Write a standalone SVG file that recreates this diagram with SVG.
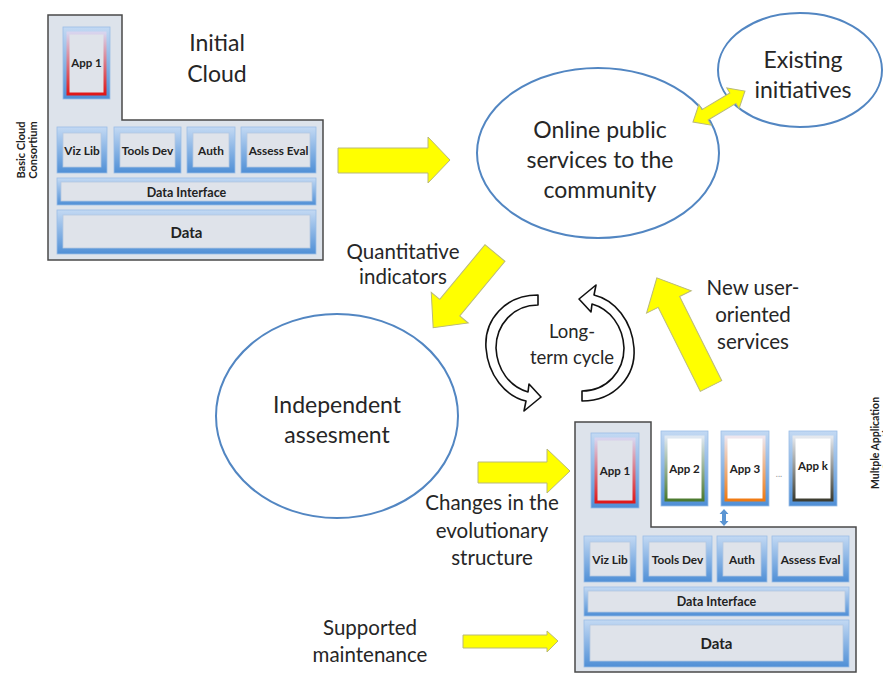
<svg xmlns="http://www.w3.org/2000/svg" width="883" height="680" viewBox="0 0 883 680">
<defs>
<linearGradient id="blueG" x1="0" y1="0" x2="0" y2="1">
<stop offset="0" stop-color="#c3d9f3"/><stop offset="1" stop-color="#4f8fd6"/>
</linearGradient>
<linearGradient id="redG" x1="0" y1="0" x2="0" y2="1">
<stop offset="0" stop-color="#d8d4ee"/><stop offset="1" stop-color="#e01818"/>
</linearGradient>
<linearGradient id="greenG" x1="0" y1="0" x2="0" y2="1">
<stop offset="0" stop-color="#dfe8f2"/><stop offset="1" stop-color="#4c7a2e"/>
</linearGradient>
<linearGradient id="orangeG" x1="0" y1="0" x2="0" y2="1">
<stop offset="0" stop-color="#eee6ee"/><stop offset="1" stop-color="#f07a12"/>
</linearGradient>
<linearGradient id="darkG" x1="0" y1="0" x2="0" y2="1">
<stop offset="0" stop-color="#e4e8ee"/><stop offset="1" stop-color="#3c3c30"/>
</linearGradient>
</defs>
<style>
.blk{fill:#dde3eb;stroke:#4a4a4a;stroke-width:1.5}
.fr{fill:url(#blueG);stroke:#9bbde6;stroke-width:0.8}
.in{fill:#dfe3ea;stroke:#b5c8e2;stroke-width:0.8}
.lb{font-family:Lato,"Liberation Sans",sans-serif;font-weight:bold;fill:#222;text-anchor:middle}
.a{font-size:11.5px}
.s{font-size:11.8px}
.di{font-size:12.5px}
.d{font-size:15px}
.t{font-family:Lato,"Open Sans",sans-serif;fill:#262626;text-anchor:middle}
.big{font-size:23px}
.mid{font-size:20.5px}
.ell{fill:#fff;stroke:#5286c2;stroke-width:2}
.ya{fill:#ffff00;stroke:#b9b97a;stroke-width:1}
.cyc{fill:#fff;stroke:#111;stroke-width:1.6;stroke-linejoin:round}
</style>
<rect width="883" height="680" fill="#fff"/>

<g id="initial-cloud">
<path class="blk" d="M48 15 H122 V120 H323 V260 H48 Z"/>
<rect class="fr" x="63" y="27" width="47" height="72"/>
<rect x="68" y="33" width="37" height="61" fill="#dfe3ea" stroke="url(#redG)" stroke-width="3"/>
<text class="lb a" x="86.5" y="67">App 1</text>
<rect class="fr" x="57" y="127" width="50" height="46"/><rect class="in" x="63" y="133" width="38" height="34"/>
<text class="lb s" x="82" y="154.5">Viz Lib</text>
<rect class="fr" x="114" y="127" width="67" height="46"/><rect class="in" x="120" y="133" width="55" height="34"/>
<text class="lb s" x="147.5" y="154.5">Tools Dev</text>
<rect class="fr" x="187" y="127" width="48" height="46"/><rect class="in" x="193" y="133" width="36" height="34"/>
<text class="lb s" x="211" y="154.5">Auth</text>
<rect class="fr" x="241" y="127" width="75" height="46"/><rect class="in" x="247" y="133" width="63" height="34"/>
<text class="lb s" x="278.5" y="154.5">Assess Eval</text>
<rect class="fr" x="57" y="178" width="259" height="27"/><rect class="in" x="61" y="182" width="251" height="19"/>
<text class="lb di" x="186.5" y="196.5">Data Interface</text>
<rect class="fr" x="57" y="210" width="259" height="44"/><rect class="in" x="63" y="215" width="247" height="33"/>
<text class="lb d" x="186.5" y="237.5">Data</text>
<text class="lb" font-size="11" transform="translate(25 150) rotate(-90)">Basic Cloud</text>
<text class="lb" font-size="11" transform="translate(37 150) rotate(-90)">Consortium</text>
<text class="t big" x="217" y="51">Initial</text>
<text class="t big" x="217" y="82">Cloud</text>
</g>

<g id="online-services">
<ellipse class="ell" cx="598" cy="153" rx="121" ry="85"/>
<text class="t big" x="600" y="138">Online public</text>
<text class="t big" x="600" y="168">services to the</text>
<text class="t big" x="600" y="198">community</text>
</g>

<g id="existing-initiatives">
<ellipse class="ell" cx="800" cy="70" rx="82" ry="57"/>
<text class="t big" x="803" y="68">Existing</text>
<text class="t big" x="803" y="98">initiatives</text>
</g>

<g id="independent-assessment">
<ellipse class="ell" cx="337" cy="416" rx="121" ry="102"/>
<text class="t big" x="337" y="413">Independent</text>
<text class="t big" x="337" y="443">assesment</text>
</g>

<g id="long-term-cycle">
<path class="cyc" d="M538 295 C505 295 484 320 486 348 C488 375 505 396 526 401 L524 411 L541 397 L529 384 L528 392 C510 387 497 370 496 348 C496 325 513 305 538 305 Z"/>
<path class="cyc" transform="rotate(180 560 348)" d="M538 295 C505 295 484 320 486 348 C488 375 505 396 526 401 L524 411 L541 397 L529 384 L528 392 C510 387 497 370 496 348 C496 325 513 305 538 305 Z"/>
<text class="t" font-size="18.5" x="572" y="338">Long-</text>
<text class="t" font-size="18.5" x="572" y="364">term cycle</text>
</g>

<g id="multiple-app-consortium">
<path class="blk" d="M575 422 H651 V527 H856 V672 H575 Z"/>
<rect class="fr" x="591" y="433" width="48" height="75"/>
<rect x="596" y="439" width="38" height="63" fill="#dfe3ea" stroke="url(#redG)" stroke-width="3"/>
<text class="lb a" x="615" y="475">App 1</text>
<rect class="fr" x="661" y="431" width="47" height="75"/>
<rect x="666" y="437" width="37" height="63" fill="#fff" stroke="url(#greenG)" stroke-width="3"/>
<text class="lb a" x="684.5" y="473">App 2</text>
<rect class="fr" x="721" y="431" width="48" height="75"/>
<rect x="726" y="437" width="38" height="63" fill="#fff" stroke="url(#orangeG)" stroke-width="3"/>
<text class="lb a" x="745" y="473">App 3</text>
<text x="779" y="477" font-family="Lato,sans-serif" font-size="9" fill="#999" text-anchor="middle">...</text>
<rect class="fr" x="789" y="431" width="48" height="75"/>
<rect x="794" y="437" width="38" height="63" fill="#fff" stroke="url(#darkG)" stroke-width="3"/>
<text class="lb a" x="813" y="470">App k</text>
<polygon fill="#5b95d3" points="724,509 728.5,514 726,514 726,521 728.5,521 724,526 719.5,521 722,521 722,514 719.5,514"/>
<rect class="fr" x="584" y="536" width="52" height="46"/><rect class="in" x="590" y="542" width="40" height="34"/>
<text class="lb s" x="610" y="563.5">Viz Lib</text>
<rect class="fr" x="643" y="536" width="69" height="46"/><rect class="in" x="649" y="542" width="57" height="34"/>
<text class="lb s" x="677.5" y="563.5">Tools Dev</text>
<rect class="fr" x="717" y="536" width="50" height="46"/><rect class="in" x="723" y="542" width="38" height="34"/>
<text class="lb s" x="742" y="563.5">Auth</text>
<rect class="fr" x="772" y="536" width="77" height="46"/><rect class="in" x="778" y="542" width="65" height="34"/>
<text class="lb s" x="810.5" y="563.5">Assess Eval</text>
<rect class="fr" x="584" y="587" width="265" height="29"/><rect class="in" x="588" y="591" width="257" height="21"/>
<text class="lb di" x="716.5" y="606">Data Interface</text>
<rect class="fr" x="584" y="620" width="265" height="47"/><rect class="in" x="590" y="625" width="253" height="36"/>
<text class="lb d" x="716.5" y="648.5">Data</text>
<text class="lb" font-size="10.5" transform="translate(879 443) rotate(-90)">Multple Application</text>
<text class="lb" font-size="10.5" transform="translate(891 443) rotate(-90)">Consortium</text>
</g>

<g id="connectors">
<polygon class="ya" points="338,148 428,148 428,137 450,160 428,183 428,173 338,173"/>
<polygon class="ya" transform="translate(495 253) rotate(129.6)" points="0,-13 71,-13 71,-24 97,0 71,24 71,13 0,13"/>
<polygon class="ya" transform="translate(711 386) rotate(-116.6)" points="0,-12 94,-12 94,-25 121,0 94,25 94,12 0,12"/>
<polygon class="ya" points="478,462 547,462 547,449 570,471 547,493 547,483 478,483"/>
<polygon class="ya" points="463,635 547,635 547,631 558,641 547,652 547,648 463,648"/>
<polygon class="ya" transform="translate(693 122) rotate(-30.8)" points="0,0 14,-12 14,-6 46.5,-6 46.5,-12 60.5,0 46.5,12 46.5,6 14,6 14,12"/>
</g>

<g id="labels">
<text class="t mid" x="403" y="259">Quantitative</text>
<text class="t mid" x="403" y="284">indicators</text>
<text class="t mid" x="753" y="295">New user-</text>
<text class="t mid" x="753" y="322">oriented</text>
<text class="t mid" x="753" y="349">services</text>
<text class="t mid" x="492" y="510">Changes in the</text>
<text class="t mid" x="492" y="538">evolutionary</text>
<text class="t mid" x="492" y="565">structure</text>
<text class="t mid" x="370" y="635">Supported</text>
<text class="t mid" x="370" y="662">maintenance</text>
</g>
</svg>
